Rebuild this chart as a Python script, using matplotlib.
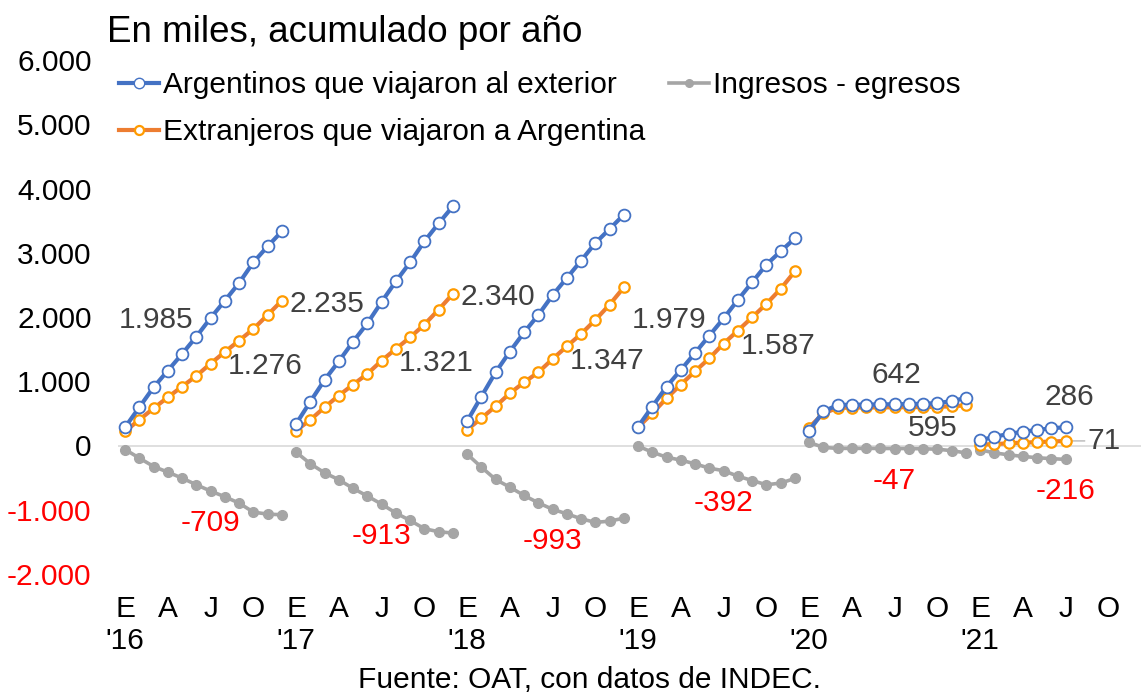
"""
Turismo internacional: argentinos al exterior vs extranjeros a Argentina.
En miles, acumulado por año (2016 - jul 2021).

Run: python plot.py
"""

import matplotlib.pyplot as plt
from matplotlib.lines import Line2D

plt.rcParams["font.family"] = ["Liberation Sans", "DejaVu Sans"]

YEARS = ["'16", "'17", "'18", "'19", "'20", "'21"]
MONTH_TICKS = ["E", "A", "J", "O"]

# acumulado por año, en miles (ene..dic; 2021 hasta julio)
argentinos = [
    [285, 596, 907, 1166, 1426, 1695, 1985, 2255, 2530, 2851, 3100, 3333],
    [337, 684, 1022, 1311, 1617, 1902, 2235, 2555, 2851, 3177, 3457, 3722],
    [378, 762, 1140, 1462, 1762, 2033, 2340, 2608, 2877, 3152, 3370, 3593],
    [295, 607, 918, 1177, 1442, 1711, 1979, 2266, 2540, 2815, 3022, 3224],
    [230, 530, 630, 635, 637, 640, 642, 645, 650, 660, 690, 740],
    [82, 135, 180, 215, 242, 267, 286],
]
extranjeros = [
    [222, 400, 580, 751, 918, 1084, 1276, 1457, 1633, 1814, 2032, 2255],
    [233, 400, 596, 778, 949, 1115, 1321, 1504, 1684, 1882, 2115, 2359],
    [244, 425, 611, 813, 984, 1140, 1347, 1544, 1737, 1955, 2193, 2462],
    [285, 502, 736, 949, 1156, 1358, 1587, 1788, 1995, 2204, 2437, 2711],
    [280, 500, 585, 590, 592, 594, 595, 597, 599, 602, 610, 625],
    [15, 20, 35, 45, 52, 62, 71],
]
saldo = [
    [-63, -196, -327, -415, -508, -611, -709, -798, -897, -1037, -1068, -1078],
    [-104, -284, -426, -533, -668, -787, -913, -1051, -1167, -1295, -1342, -1363],
    [-134, -337, -529, -649, -778, -893, -993, -1064, -1140, -1197, -1177, -1131],
    [-10, -105, -182, -228, -286, -353, -392, -478, -545, -611, -585, -513],
    [50, -30, -45, -45, -45, -46, -47, -48, -51, -58, -80, -115],
    [-67, -115, -145, -170, -190, -205, -216],
]

Y_TICKS = [-2000, -1000, 0, 1000, 2000, 3000, 4000, 5000, 6000]
Y_LABELS = ["-2.000", "-1.000", "0", "1.000", "2.000", "3.000", "4.000", "5.000", "6.000"]

BLUE = "#4472C4"
ORANGE = "#ED7D31"
ORANGE_MK = "#FF9B00"
GRAY = "#A5A5A5"
RED = "#FF0000"
LABEL = "#404040"
FS = 21.5

fig = plt.figure(figsize=(11.41, 6.94), dpi=100)
ax = fig.add_axes([118 / 1141, 1 - 574 / 694, 1026 / 1141, 514 / 694])

JUL = 6
for i in range(len(YEARS)):
    xs = [i * 12 + m for m in range(len(argentinos[i]))]
    ax.plot(xs, saldo[i], color=GRAY, lw=2.6, marker="o", ms=7,
            mfc=GRAY, mec=GRAY, zorder=3)
    ax.plot(xs, extranjeros[i], color=ORANGE, lw=3, marker="o", ms=7.5,
            mfc="white", mec=ORANGE_MK, mew=1.6, zorder=4)
    ax.plot(xs, argentinos[i], color=BLUE, lw=3, marker="o", ms=8.5,
            mfc="white", mec=BLUE, mew=1.3, zorder=5)

    xj = i * 12 + JUL
    if i < 4:
        ax.annotate(f"{argentinos[i][JUL]:,}".replace(",", "."), (xj, argentinos[i][JUL]),
                    xytext=(-17, -2), textcoords="offset pixels",
                    ha="right", va="center", fontsize=FS, color=LABEL)
        ax.annotate(f"{extranjeros[i][JUL]:,}".replace(",", "."), (xj, extranjeros[i][JUL]),
                    xytext=(17, -2), textcoords="offset pixels",
                    ha="left", va="center", fontsize=FS, color=LABEL)
    elif i == 4:
        ax.annotate(f"{argentinos[i][JUL]}", (xj, argentinos[i][JUL]),
                    xytext=(2, 29), textcoords="offset pixels",
                    ha="center", va="center", fontsize=FS, color=LABEL)
        ax.annotate(f"{extranjeros[i][JUL]}", (xj, extranjeros[i][JUL]),
                    xytext=(38, -21), textcoords="offset pixels",
                    ha="center", va="center", fontsize=FS, color=LABEL)
    else:
        ax.annotate(f"{argentinos[i][JUL]}", (xj, argentinos[i][JUL]),
                    xytext=(4, 30), textcoords="offset pixels",
                    ha="center", va="center", fontsize=FS, color=LABEL)
        ax.annotate(f"{extranjeros[i][JUL]}", (xj, extranjeros[i][JUL]),
                    xytext=(22, 0), textcoords="offset pixels",
                    ha="left", va="center", fontsize=FS, color=LABEL,
                    arrowprops=dict(arrowstyle="-", color=GRAY, lw=0.8,
                                    shrinkA=0, shrinkB=5))
    ax.annotate(f"{saldo[i][JUL]:,}".replace(",", "."), (xj, saldo[i][JUL]),
                xytext=(0, -32), textcoords="offset pixels",
                ha="center", va="center", fontsize=FS, color=RED)

ax.axhline(0, color="#D9D9D9", lw=1.2, zorder=1)

ax.set_xlim(-0.5, 71.5)
ax.set_ylim(-2000, 6000)

xt, xl = [], []
for i, yr in enumerate(YEARS):
    for k, m in enumerate(MONTH_TICKS):
        xt.append(i * 12 + k * 3)
        xl.append(f"{m}\n{yr}" if k == 0 else m)
ax.set_xticks(xt)
ax.set_xticklabels(xl, fontsize=FS, linespacing=1.2)
ax.set_yticks(Y_TICKS)
ax.set_yticklabels(Y_LABELS, fontsize=FS)
for t, v in zip(ax.get_yticklabels(), Y_TICKS):
    t.set_color(RED if v < 0 else "black")
ax.tick_params(axis="both", length=0)
ax.tick_params(axis="x", pad=15)
ax.tick_params(axis="y", pad=19)
for s in ax.spines.values():
    s.set_visible(False)

handles = [
    Line2D([], [], color=BLUE, lw=3, marker="o", ms=7.5, mfc="white", mec=BLUE),
    Line2D([], [], color=ORANGE, lw=3, marker="o", ms=6.5, mfc="white", mec=ORANGE_MK, mew=1.6),
    Line2D([], [], color=GRAY, lw=2.6, marker="o", ms=5.5, mfc=GRAY, mec=GRAY),
]
labels = [
    "Argentinos que viajaron al exterior",
    "Extranjeros que viajaron a Argentina",
    "Ingresos - egresos",
]
fig.legend(handles, labels, loc="upper left", bbox_to_anchor=(119 / 1141, 1 - 71 / 694),
           ncol=2, frameon=False, fontsize=FS, handlelength=1.35, handletextpad=0.12,
           columnspacing=0.8, labelspacing=0.65, borderpad=0, borderaxespad=0)

fig.text(107 / 1141, 1 - 32 / 694, "En miles, acumulado por año",
         fontsize=26.5, ha="left", va="center")
fig.text(590 / 1141, 1 - 680 / 694, "Fuente: OAT, con datos de INDEC.",
         fontsize=FS, ha="center", va="center")

fig.savefig("out.png", dpi=100)
